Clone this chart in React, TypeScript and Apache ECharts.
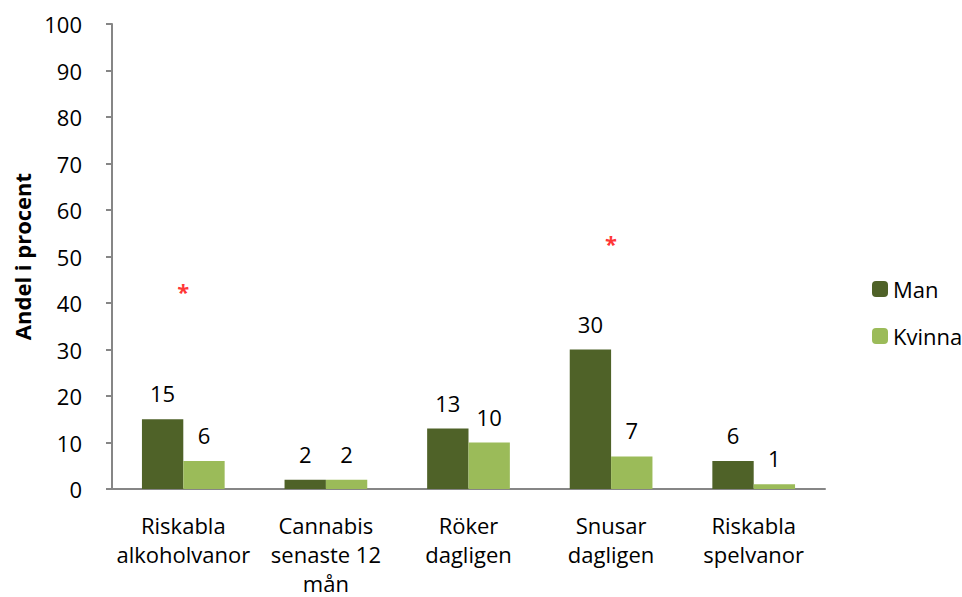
import React, { useEffect, useRef } from "react";
import * as echarts from "echarts";

const categories = [
  "Riskabla\nalkoholvanor",
  "Cannabis\nsenaste 12\nmån",
  "Röker\ndagligen",
  "Snusar\ndagligen",
  "Riskabla\nspelvanor",
];
const manValues = [15, 2, 13, 30, 6];
const kvinnaValues = [6, 2, 10, 7, 1];
const starValues: (number | null)[] = [42.5, null, null, 53, null];
const yTicks = { min: 0, max: 100, interval: 10 };

const FONT = "'Open Sans', 'Noto Sans', sans-serif";
const FS = 22;

export default function App() {
  const ref = useRef<HTMLDivElement>(null);
  useEffect(() => {
    if (!ref.current) return;
    const chart = echarts.init(ref.current, null, { renderer: "svg" });
    chart.setOption({
      animation: false,
      textStyle: { fontFamily: FONT },
      grid: { left: 112, right: 137, top: 24, bottom: 108, containLabel: false, outerBoundsMode: "none" },
      legend: {
        orient: "vertical",
        left: 867,
        top: 273,
        itemWidth: 16,
        itemHeight: 16,
        itemGap: 25,
        data: ["Man", "Kvinna"],
        textStyle: { fontSize: FS, color: "#000", fontFamily: FONT },
      },
      xAxis: {
        type: "category",
        data: categories,
        axisLine: { lineStyle: { color: "#868686", width: 2 } },
        axisTick: { show: false },
        axisLabel: {
          color: "#000",
          fontSize: FS,
          lineHeight: 29,
          margin: 21,
          interval: 0,
          fontFamily: FONT,
        },
      },
      yAxis: {
        type: "value",
        min: yTicks.min,
        max: yTicks.max,
        interval: yTicks.interval,
        name: "Andel i procent",
        nameLocation: "middle",
        nameGap: 79,
        nameTextStyle: { fontSize: FS, fontWeight: "bold", color: "#000", fontFamily: FONT },
        axisLine: { show: true, lineStyle: { color: "#868686", width: 2 } },
        axisTick: { show: true, length: 6, lineStyle: { color: "#868686", width: 2 } },
        axisLabel: { color: "#000", fontSize: FS, margin: 30, fontFamily: FONT },
        splitLine: { show: false },
      },
      series: [
        {
          name: "Man",
          type: "bar",
          data: manValues,
          barGap: "0%",
          barCategoryGap: "42%",
          itemStyle: { color: "#4f6228" },
          label: { show: true, position: "top", distance: 15, fontSize: FS, color: "#000", fontFamily: FONT },
        },
        {
          name: "Kvinna",
          type: "bar",
          data: kvinnaValues,
          itemStyle: { color: "#9bbb59" },
          label: { show: true, position: "top", distance: 15, fontSize: FS, color: "#000", fontFamily: FONT },
        },
        {
          name: "star",
          type: "scatter",
          data: starValues,
          symbolSize: 0,
          itemStyle: { color: "transparent" },
          label: {
            show: true,
            position: "inside",
            formatter: "*",
            color: "#ff0000",
            fontSize: 22,
            fontWeight: "bold",
            fontFamily: FONT,
          },
          z: 5,
        },
      ],
    });
    return () => chart.dispose();
  }, []);
  return <div ref={ref} style={{ width: 962, height: 597, position: "absolute", left: 0, top: 0 }} />;
}
